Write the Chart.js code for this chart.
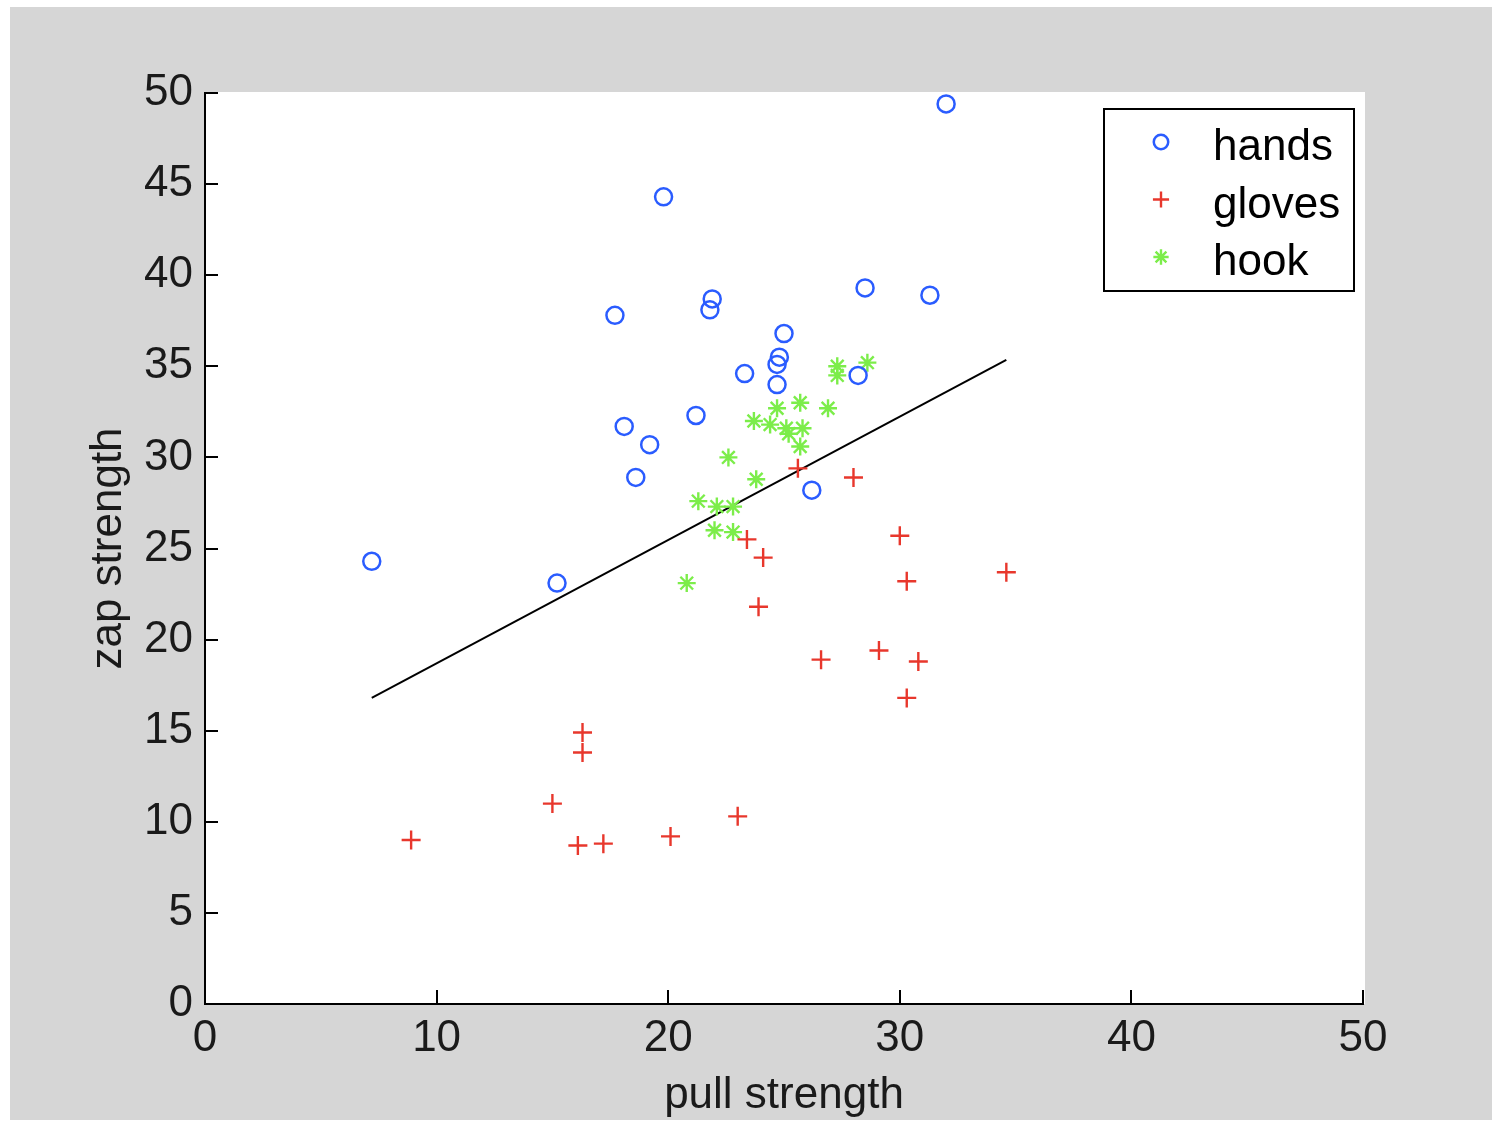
<!DOCTYPE html>
<html>
<head>
<meta charset="utf-8">
<title>pull vs zap strength</title>
<script src="https://cdn.jsdelivr.net/npm/chart.js@4.4.1/dist/chart.umd.min.js"></script>
<style>
    html, body { margin: 0; padding: 0; background: #ffffff; }
    #wrap { width: 1492px; height: 1122px; }
</style>
</head>
<body>
<div id="wrap"><canvas id="scatter"></canvas></div>
<script>
// pull strength (x) / zap strength (y) per group
let handsX = [32.0, 19.8, 17.7, 21.9, 21.8, 28.5, 31.3, 25.0, 24.8, 24.7, 23.3, 24.7, 28.2, 21.2, 18.1, 19.2, 18.6, 26.2, 7.2, 15.2];
let handsY = [49.4, 44.3, 37.8, 38.7, 38.1, 39.3, 38.9, 36.8, 35.5, 35.1, 34.6, 34.0, 34.5, 32.3, 31.7, 30.7, 28.9, 28.2, 24.3, 23.1];

let glovesX = [8.9, 16.3, 16.3, 15.0, 16.1, 17.2, 20.1, 23.0, 23.4, 24.1, 23.9, 25.6, 28.0, 30.0, 30.3, 34.6, 26.6, 29.1, 30.8, 30.3];
let glovesY = [9.0, 14.9, 13.8, 11.0, 8.7, 8.8, 9.2, 10.3, 25.5, 24.5, 21.8, 29.4, 28.9, 25.7, 23.2, 23.7, 18.9, 19.4, 18.8, 16.8];

let hookX = [28.6, 27.3, 27.3, 25.7, 26.9, 24.7, 23.7, 24.4, 25.1, 25.8, 25.2, 25.7, 22.6, 23.8, 21.3, 22.1, 22.8, 22.0, 22.8, 20.8];
let hookY = [35.2, 35.0, 34.5, 33.0, 32.7, 32.7, 32.0, 31.8, 31.6, 31.6, 31.3, 30.6, 30.0, 28.8, 27.6, 27.3, 27.3, 26.0, 25.9, 23.1];

// least squares line end points
let fitX = [7.2, 34.6];
let fitY = [16.8, 35.35];

let xTicks = [0, 10, 20, 30, 40, 50];
let yTicks = [0, 5, 10, 15, 20, 25, 30, 35, 40, 45, 50];

let groupNames = ["hands", "gloves", "hook"];

const FONT = "'Liberation Sans', Arial, Helvetica, sans-serif";

function toPoints(xs, ys) {
    return xs.map((x, i) => ({ x: x, y: ys[i] }));
}

// grey figure background and white axes area
const backdrop = {
    id: "backdrop",
    beforeDraw(chart) {
        let ctx = chart.ctx;
        let a = chart.chartArea;
        ctx.save();
        ctx.fillStyle = "#ffffff";
        ctx.fillRect(0, 0, chart.width, chart.height);
        ctx.fillStyle = "#d6d6d6";
        ctx.fillRect(10, 7, chart.width - 10, 1113);
        ctx.fillStyle = "#ffffff";
        ctx.fillRect(a.left, a.top - 1, a.right - a.left + 2, a.bottom - a.top + 1);
        ctx.restore();
    }
};

// tick marks pointing into the axes
const innerTicks = {
    id: "innerTicks",
    afterDatasetsDraw(chart) {
        let ctx = chart.ctx;
        let a = chart.chartArea;
        let xs = chart.scales.x;
        let ys = chart.scales.y;
        ctx.save();
        ctx.strokeStyle = "#000000";
        ctx.lineWidth = 2;
        ctx.beginPath();
        xs.ticks.forEach(t => {
            let px = Math.round(xs.getPixelForValue(t.value));
            ctx.moveTo(px, a.bottom);
            ctx.lineTo(px, a.bottom - 14);
        });
        ys.ticks.forEach(t => {
            let py = Math.round(ys.getPixelForValue(t.value));
            ctx.moveTo(a.left, py);
            ctx.lineTo(a.left + 13, py);
        });
        ctx.stroke();
        ctx.restore();
    }
};

// boxed legend in the upper right corner
const boxLegend = {
    id: "boxLegend",
    afterDraw(chart) {
        let ctx = chart.ctx;
        let left = 1104, top = 109, w = 250, h = 182;
        ctx.save();
        ctx.fillStyle = "#ffffff";
        ctx.fillRect(left, top, w, h);
        ctx.strokeStyle = "#000000";
        ctx.lineWidth = 2;
        ctx.strokeRect(left, top, w, h);

        ctx.font = "44px " + FONT;
        ctx.textAlign = "left";
        ctx.textBaseline = "middle";
        groupNames.forEach((name, i) => {
            let ds = chart.data.datasets[i];
            let rowY = 148 + i * 57.5;
            ctx.strokeStyle = ds.borderColor;
            ctx.fillStyle = ds.backgroundColor;
            ctx.lineWidth = ds.borderWidth;
            Chart.helpers.drawPoint(ctx, {
                pointStyle: ds.pointStyle,
                radius: ds.pointRadius * 0.85,
                borderWidth: ds.borderWidth,
                rotation: 0
            }, 1161, rowY - 6);
            ctx.fillStyle = "#000000";
            ctx.fillText(name, 1213, rowY);
        });
        ctx.restore();
    }
};

let ctx = document.getElementById("scatter").getContext("2d");

new Chart(ctx, {
    type: "scatter",
    data: {
        datasets: [
            {
                label: groupNames[0],
                data: toPoints(handsX, handsY),
                pointStyle: "circle",
                pointRadius: 8.5,
                borderWidth: 2.5,
                borderColor: "#2a5cff",
                backgroundColor: "rgba(0,0,0,0)"
            },
            {
                label: groupNames[1],
                data: toPoints(glovesX, glovesY),
                pointStyle: "cross",
                pointRadius: 9.5,
                borderWidth: 2.4,
                borderColor: "#e8372c",
                backgroundColor: "#e8372c"
            },
            {
                label: groupNames[2],
                data: toPoints(hookX, hookY),
                pointStyle: "star",
                pointRadius: 9,
                borderWidth: 2.4,
                borderColor: "#7ced4a",
                backgroundColor: "#7ced4a"
            },
            {
                label: "fit",
                type: "line",
                data: toPoints(fitX, fitY),
                borderColor: "#000000",
                borderWidth: 2,
                pointRadius: 0,
                fill: false
            }
        ]
    },
    options: {
        responsive: true,
        maintainAspectRatio: false,
        animation: false,
        events: [],
        layout: {
            padding: { left: 0, top: 93, right: 129, bottom: 0 }
        },
        plugins: {
            legend: { display: false },
            tooltip: { enabled: false }
        },
        scales: {
            x: {
                type: "linear",
                min: 0,
                max: 50,
                afterFit: scale => { scale.height = 118; },
                afterBuildTicks: scale => {
                    scale.ticks = xTicks.map(v => ({ value: v }));
                },
                grid: { drawOnChartArea: false, drawTicks: false },
                border: { display: true, color: "#000000", width: 2 },
                ticks: {
                    padding: 8,
                    color: "#1a1a1a",
                    font: { family: FONT, size: 44 }
                },
                title: {
                    display: true,
                    text: "pull strength",
                    color: "#1a1a1a",
                    padding: { top: 0, bottom: 0 },
                    font: { family: FONT, size: 44 }
                }
            },
            y: {
                type: "linear",
                min: 0,
                max: 50,
                afterFit: scale => { scale.width = 205; },
                afterBuildTicks: scale => {
                    scale.ticks = yTicks.map(v => ({ value: v }));
                },
                grid: { drawOnChartArea: false, drawTicks: false },
                border: { display: true, color: "#000000", width: 2 },
                ticks: {
                    padding: 12,
                    color: "#1a1a1a",
                    font: { family: FONT, size: 44 }
                },
                title: {
                    display: true,
                    text: "zap strength",
                    color: "#1a1a1a",
                    padding: { top: 82, bottom: 0 },
                    font: { family: FONT, size: 44 }
                }
            }
        }
    },
    plugins: [backdrop, innerTicks, boxLegend]
});
</script>
</body>
</html>
